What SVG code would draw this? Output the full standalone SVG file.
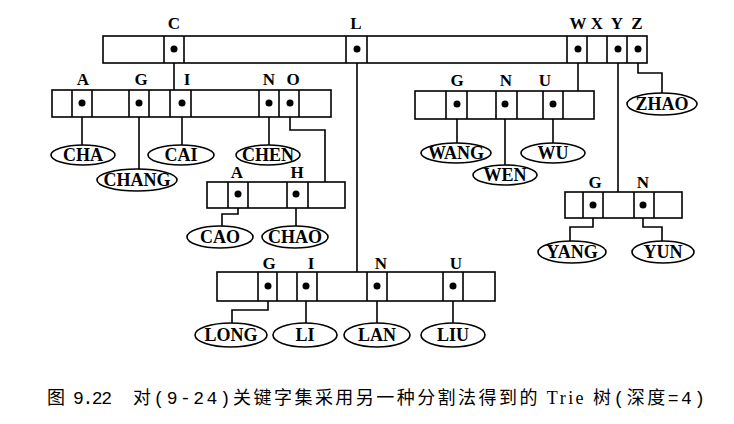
<svg xmlns="http://www.w3.org/2000/svg" width="734" height="424" viewBox="0 0 734 424">
<style>
.box{fill:#fff;stroke:#000;stroke-width:1.6}
.div{stroke:#000;stroke-width:1.6}
.dot{fill:#000}
.lbl{font-family:"Liberation Serif",serif;font-weight:bold;font-size:17px;text-anchor:middle;fill:#000}
.leaf{fill:#fff;stroke:#000;stroke-width:1.6}
.lt{font-family:"Liberation Serif",serif;font-weight:bold;font-size:18px;text-anchor:middle;fill:#000}
.con{fill:none;stroke:#000;stroke-width:1.6}
.cap{font-family:"Liberation Mono","Noto Sans CJK SC",monospace;font-size:18px;fill:#000}
.ser{font-family:"Liberation Serif",serif}
</style>
<rect width="734" height="424" fill="#fff"/>
<g id="connectors" class="con">
<path d="M174 49V90"/>
<path d="M357 49V272"/>
<path d="M578 49V91"/>
<path d="M618 49V192"/>
<path d="M638 49V73H662V93"/>
<path d="M82 103V145"/>
<path d="M139 103V169"/>
<path d="M182 103V145"/>
<path d="M269 103V145"/>
<path d="M290 103V130H325V182"/>
<path d="M238 194V214H222V226"/>
<path d="M296 194V226"/>
<path d="M457 104V143"/>
<path d="M505 104V165"/>
<path d="M553 104V143"/>
<path d="M593 205V227H570V241"/>
<path d="M643 205V227H662V241"/>
<path d="M268 286V310H232V323"/>
<path d="M306 286V323"/>
<path d="M377 286V323"/>
<path d="M453 286V323"/>
</g>
<g id="root">
<rect class="box" x="103" y="36" width="544" height="27"/>
<path class="div" d="M164 36V63M184 36V63M346 36V63M367 36V63M567 36V63M587 36V63M607 36V63M627 36V63"/>
<text class="lbl" x="174" y="29">C</text>
<text class="lbl" x="356" y="29">L</text>
<text class="lbl" x="578" y="29">W</text>
<text class="lbl" x="597" y="29">X</text>
<text class="lbl" x="617" y="29">Y</text>
<text class="lbl" x="637" y="29">Z</text>
<circle class="dot" cx="174" cy="49" r="3.5"/>
<circle class="dot" cx="357" cy="49" r="3.5"/>
<circle class="dot" cx="578" cy="49" r="3.5"/>
<circle class="dot" cx="618" cy="49" r="3.5"/>
<circle class="dot" cx="638" cy="49" r="3.5"/>
</g>
<g id="nodeC">
<rect class="box" x="52" y="90" width="279" height="27"/>
<path class="div" d="M72 90V117M92 90V117M129 90V117M149 90V117M170 90V117M191 90V117M259 90V117M279 90V117M299 90V117"/>
<text class="lbl" x="83" y="85">A</text>
<text class="lbl" x="141" y="85">G</text>
<text class="lbl" x="187" y="85">I</text>
<text class="lbl" x="269" y="85">N</text>
<text class="lbl" x="293" y="85">O</text>
<circle class="dot" cx="82" cy="103" r="3.5"/>
<circle class="dot" cx="139" cy="103" r="3.5"/>
<circle class="dot" cx="182" cy="103" r="3.5"/>
<circle class="dot" cx="269" cy="103" r="3.5"/>
<circle class="dot" cx="290" cy="103" r="3.5"/>
</g>
<g id="nodeCO">
<rect class="box" x="207" y="182" width="138" height="26"/>
<path class="div" d="M228 182V208M248 182V208M287 182V208M308 182V208"/>
<text class="lbl" x="237" y="178">A</text>
<text class="lbl" x="297" y="178">H</text>
<circle class="dot" cx="238" cy="194" r="3.5"/>
<circle class="dot" cx="296" cy="194" r="3.5"/>
</g>
<g id="nodeW">
<rect class="box" x="415" y="91" width="179" height="28"/>
<path class="div" d="M446 91V119M467 91V119M496 91V119M517 91V119M543 91V119M563 91V119"/>
<text class="lbl" x="457" y="86">G</text>
<text class="lbl" x="506" y="86">N</text>
<text class="lbl" x="545" y="86">U</text>
<circle class="dot" cx="457" cy="104" r="3.5"/>
<circle class="dot" cx="505" cy="104" r="3.5"/>
<circle class="dot" cx="553" cy="104" r="3.5"/>
</g>
<g id="nodeY">
<rect class="box" x="565" y="192" width="117" height="26"/>
<path class="div" d="M583 192V218M603 192V218M634 192V218M654 192V218"/>
<text class="lbl" x="595" y="188">G</text>
<text class="lbl" x="643" y="188">N</text>
<circle class="dot" cx="593" cy="205" r="3.5"/>
<circle class="dot" cx="643" cy="205" r="3.5"/>
</g>
<g id="nodeL">
<rect class="box" x="217" y="272" width="278" height="29"/>
<path class="div" d="M258 272V301M277 272V301M297 272V301M317 272V301M367 272V301M387 272V301M443 272V301M463 272V301"/>
<text class="lbl" x="269" y="269">G</text>
<text class="lbl" x="311" y="269">I</text>
<text class="lbl" x="381" y="269">N</text>
<text class="lbl" x="456" y="269">U</text>
<circle class="dot" cx="268" cy="286" r="3.5"/>
<circle class="dot" cx="306" cy="286" r="3.5"/>
<circle class="dot" cx="377" cy="286" r="3.5"/>
<circle class="dot" cx="453" cy="286" r="3.5"/>
</g>
<g id="CHA"><ellipse class="leaf" cx="83" cy="155" rx="32" ry="10"/><text class="lt" x="83" y="161">CHA</text></g>
<g id="CHANG"><ellipse class="leaf" cx="137" cy="180" rx="40" ry="11"/><text class="lt" x="137" y="186">CHANG</text></g>
<g id="CAI"><ellipse class="leaf" cx="181" cy="155" rx="33" ry="10"/><text class="lt" x="181" y="161">CAI</text></g>
<g id="CHEN"><ellipse class="leaf" cx="268" cy="155" rx="32" ry="10"/><text class="lt" x="268" y="161">CHEN</text></g>
<g id="CAO"><ellipse class="leaf" cx="220" cy="237" rx="33" ry="11"/><text class="lt" x="220" y="243">CAO</text></g>
<g id="CHAO"><ellipse class="leaf" cx="295" cy="237" rx="33" ry="11"/><text class="lt" x="295" y="243">CHAO</text></g>
<g id="WANG"><ellipse class="leaf" cx="456" cy="153" rx="35" ry="10"/><text class="lt" x="456" y="159">WANG</text></g>
<g id="WEN"><ellipse class="leaf" cx="505" cy="175" rx="32" ry="10"/><text class="lt" x="505" y="181">WEN</text></g>
<g id="WU"><ellipse class="leaf" cx="553" cy="153" rx="32" ry="10"/><text class="lt" x="553" y="159">WU</text></g>
<g id="ZHAO"><ellipse class="leaf" cx="662" cy="104" rx="35" ry="11"/><text class="lt" x="662" y="110">ZHAO</text></g>
<g id="YANG"><ellipse class="leaf" cx="572" cy="252" rx="34" ry="11"/><text class="lt" x="572" y="258">YANG</text></g>
<g id="YUN"><ellipse class="leaf" cx="663" cy="252" rx="31" ry="11"/><text class="lt" x="663" y="258">YUN</text></g>
<g id="LONG"><ellipse class="leaf" cx="231" cy="335" rx="36" ry="12"/><text class="lt" x="231" y="341">LONG</text></g>
<g id="LI"><ellipse class="leaf" cx="305" cy="335" rx="32" ry="12"/><text class="lt" x="305" y="341">LI</text></g>
<g id="LAN"><ellipse class="leaf" cx="377" cy="335" rx="33" ry="12"/><text class="lt" x="377" y="341">LAN</text></g>
<g id="LIU"><ellipse class="leaf" cx="453" cy="335" rx="32" ry="12"/><text class="lt" x="453" y="341">LIU</text></g>
<g id="caption">
<text class="cap" x="47" y="404" textLength="65" lengthAdjust="spacing">图 9.22</text>
<text class="cap" x="133" y="404" textLength="572" lengthAdjust="spacing">对(9-24)关键字集采用另一种分割法得到的<tspan class="ser"> Trie </tspan>树(深度=4)</text>
</g>
</svg>
